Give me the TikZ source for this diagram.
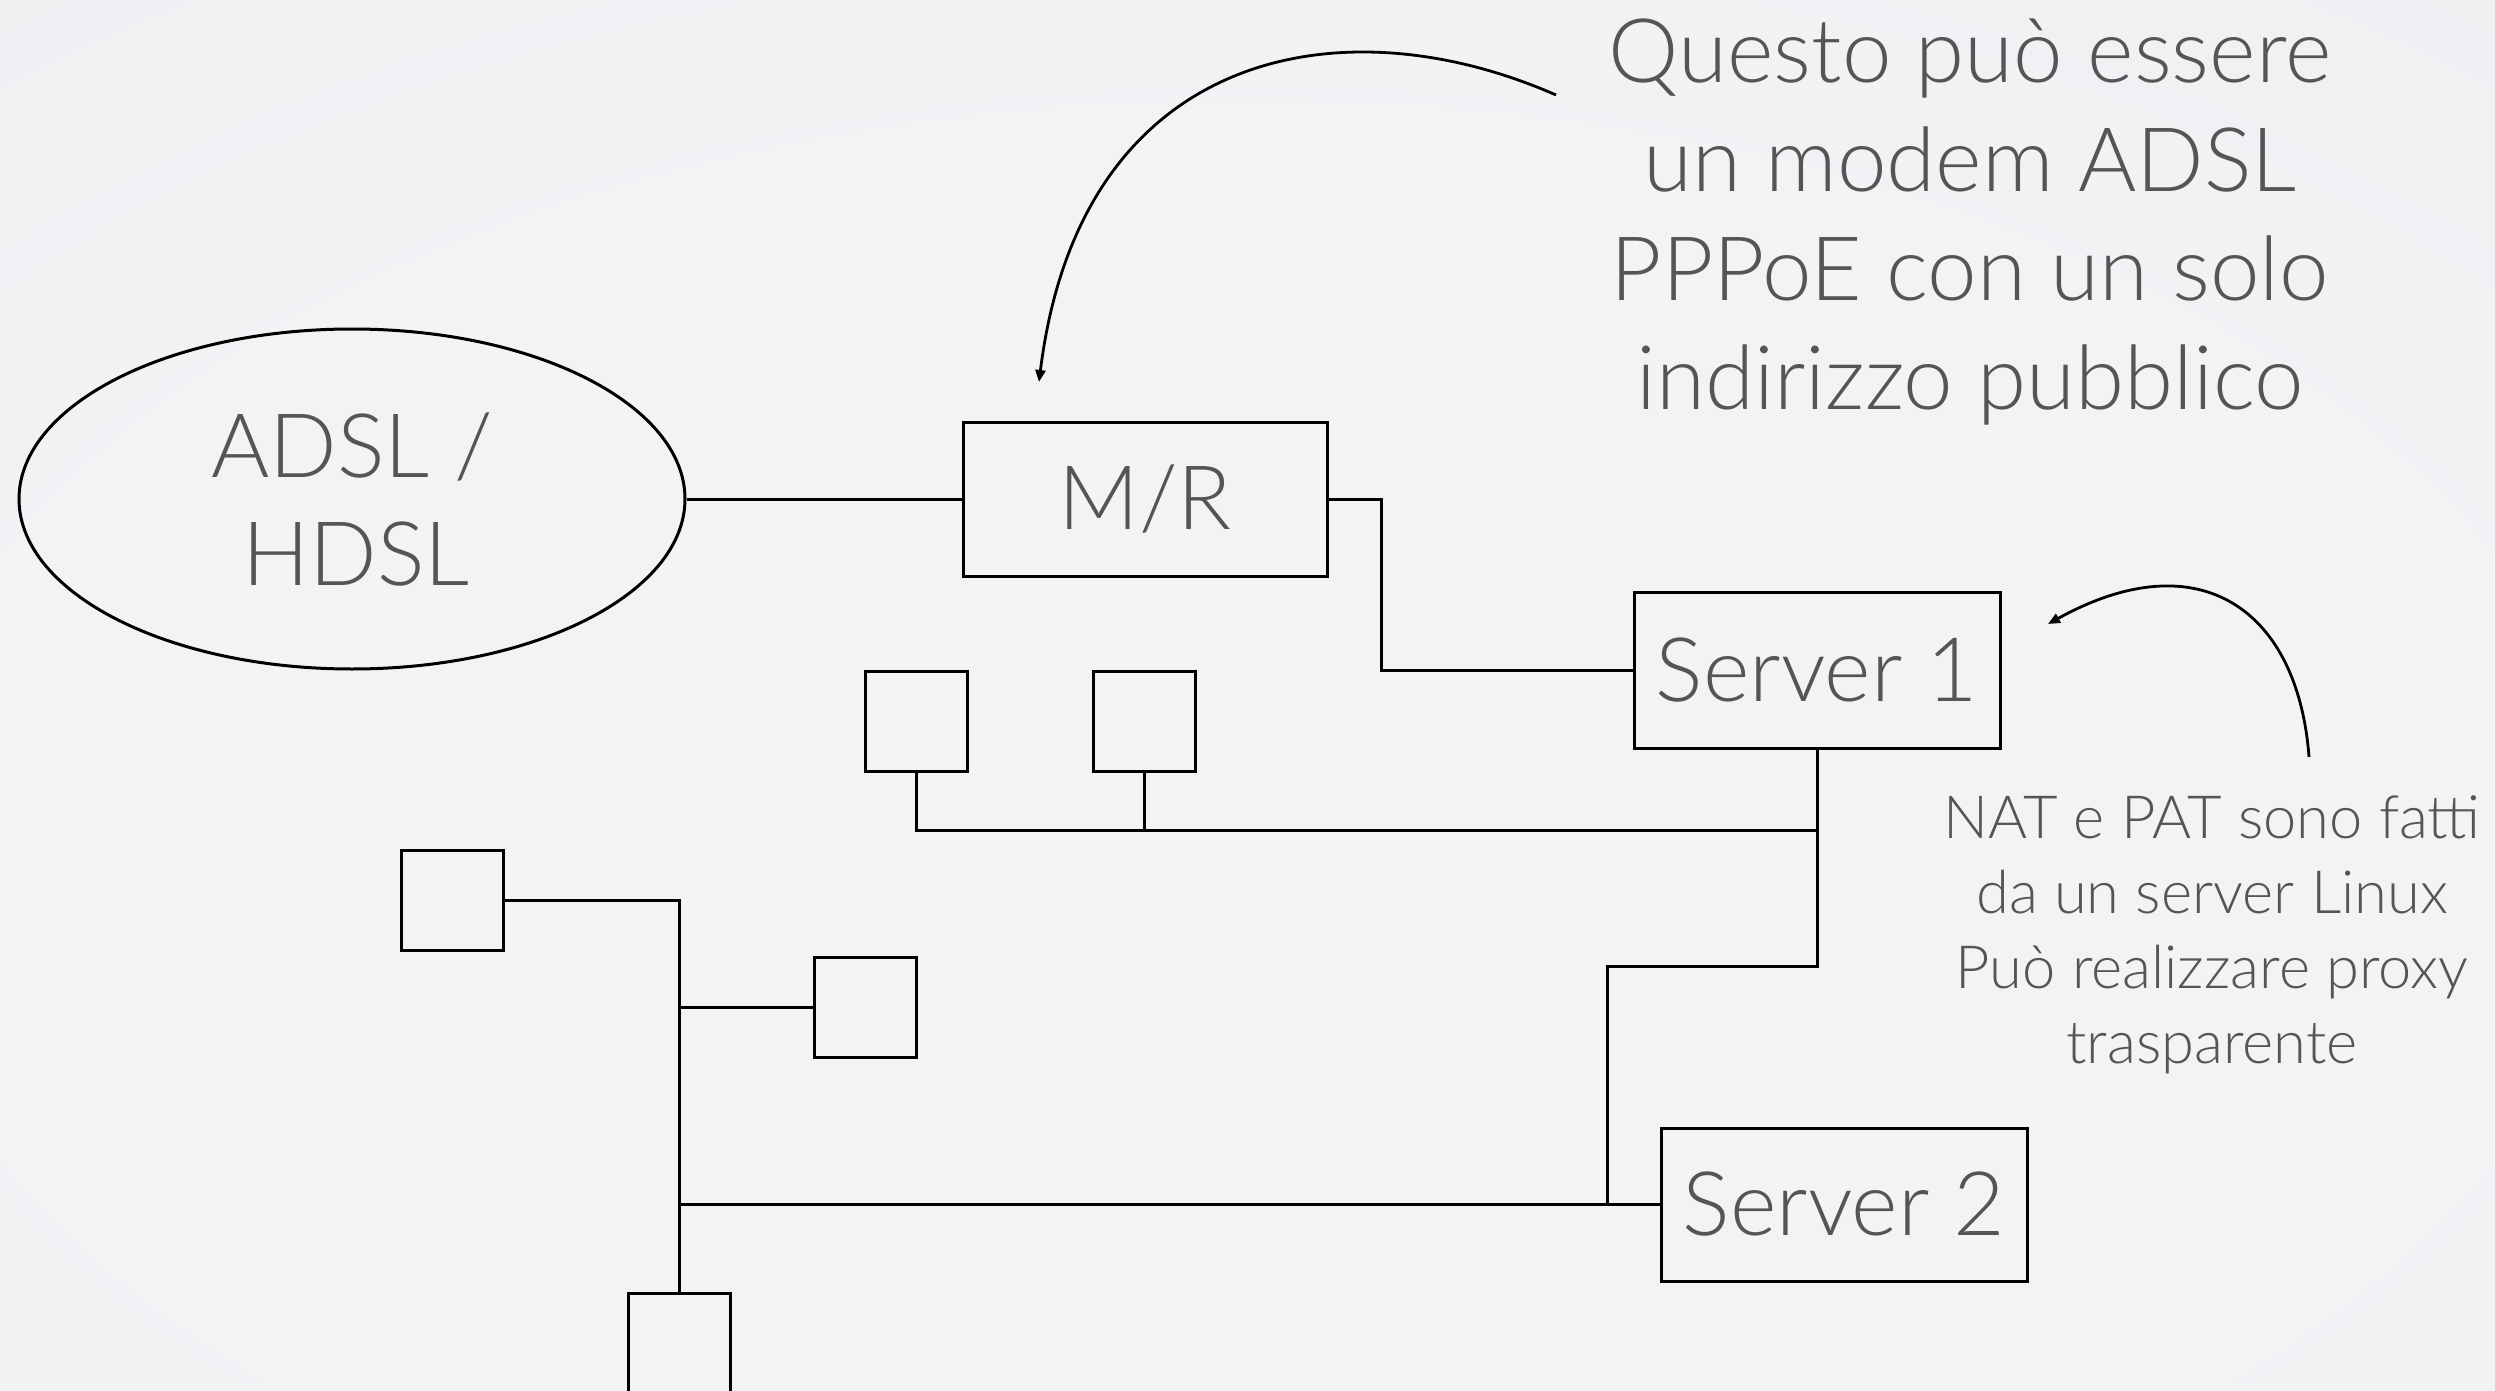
\documentclass[tikz,border=0pt]{standalone}
\usepackage{fontspec}
\setmainfont{Lato Light}
\usetikzlibrary{arrows.meta,shapes.geometric}

\definecolor{ink}{HTML}{555555}
\definecolor{bgmid}{HTML}{F2F3F5}
\definecolor{bgedge}{HTML}{E6E9EC}

% gentle vignette for the page
\pgfdeclareradialshading{softbg}{\pgfpoint{0bp}{-8bp}}{%
  color(0bp)=(bgmid); color(25bp)=(bgmid);
  color(72bp)=(bgedge); color(100bp)=(bgedge)}

\begin{document}
\begin{tikzpicture}[x=0.5pt,y=-0.5pt,
  wire/.style={draw=black,line width=1.5pt},
  lbl/.style={inner sep=0pt,text=ink,font=\fontsize{44.5pt}{54pt}\selectfont},
  note/.style={inner sep=0pt,text=ink,font=\fontsize{29.8pt}{38pt}\selectfont},
  box/.style={draw=black,line width=1.5pt,rectangle,inner sep=0pt,
    minimum width=183pt,minimum height=77pt,text=ink,
    font=\fontsize{44.5pt}{54pt}\selectfont},
  host/.style={draw=black,line width=1.5pt,rectangle,inner sep=0pt,
    minimum width=51pt,minimum height=50pt},
  pointer/.style={draw=black,line width=1.4pt,
    -{Triangle[length=6pt,width=5pt]}}]

  % page and soft background
  \useasboundingbox (0,0) rectangle (2495,1391);
  \shade[shading=softbg] (0,0) rectangle (2495,1391);
  \clip (0,0) rectangle (2495,1391);

  % access network
  \node[ellipse,draw=black,line width=1.5pt,minimum width=333pt,
        minimum height=170pt,inner sep=0pt] (net) at (352,499) {};
  \node[lbl,anchor=base] (netA) at (352,477) {ADSL /};
  \node[lbl,anchor=base] (netB) at (356,585) {HDSL};

  % modem/router and servers
  \node[box,minimum width=182pt] (mr) at (1145,499) {M/R};
  \node[box,minimum height=78pt] (s1) at (1817,670) {Server 1};
  \node[box,minimum height=76.5pt] (s2) at (1844,1204.5) {Server 2};

  % hosts
  \node[host] (h1) at (916.5,721.5) {};
  \node[host] (h2) at (1144,721.5) {};
  \node[host] (h3) at (452,900) {};
  \node[host] (h4) at (865.5,1007) {};
  \node[host,anchor=north] (h5) at (679.5,1292) {};

  % bends of the cabling
  \coordinate (k1) at (1381,499);
  \coordinate (busTop) at (1817,830.5);
  \coordinate (jog) at (1817,966);
  \coordinate (jogL) at (1607,966);
  \coordinate (lan) at (1607,1204.5);
  \coordinate (lbTop) at (679.5,900);

  \draw[wire] (net.east) -- (mr.west);
  \draw[wire] (mr.east) -- (k1) |- (s1.west);
  \draw[wire] (s1.south) -- (jog) -- (jogL) -- (lan) -- (s2.west);
  \draw[wire] (h1.south) |- (busTop);
  \draw[wire] (h2.south) -- (h2.south |- busTop);
  \draw[wire] (h3.east) -- (lbTop) -- (h5.north);
  \draw[wire] (h4.west) -- (h4.west -| lbTop);
  \draw[wire] (lbTop |- lan) -- (lan);

  % remarks
  \node[lbl,anchor=base] (q1) at (1970,83) {Questo può essere};
  \node[lbl,anchor=base] (q2) at (1970,192) {un modem ADSL};
  \node[lbl,anchor=base] (q3) at (1970,300.5) {PPPoE con un solo};
  \node[lbl,anchor=base] (q4) at (1970,409) {indirizzo pubblico};

  \node[note,anchor=base] (n1) at (2212,838) {NAT e PAT sono fatti};
  \node[note,anchor=base] (n2) at (2212,913) {da un server Linux};
  \node[note,anchor=base] (n3) at (2212,988) {Può realizzare proxy};
  \node[note,anchor=base] (n4) at (2212,1063) {trasparente};

  % pointers from the remarks
  \coordinate (p1s) at (1556,95);
  \coordinate (p1e) at (1039,382);
  \coordinate (p2s) at (2309,757);
  \coordinate (p2e) at (2048,624);
  \draw[pointer] (p1s) .. controls (1340,0) and (1080,50) .. (p1e);
  \draw[pointer] (p2s) .. controls (2298,610) and (2200,540) .. (p2e);
\end{tikzpicture}
\end{document}
